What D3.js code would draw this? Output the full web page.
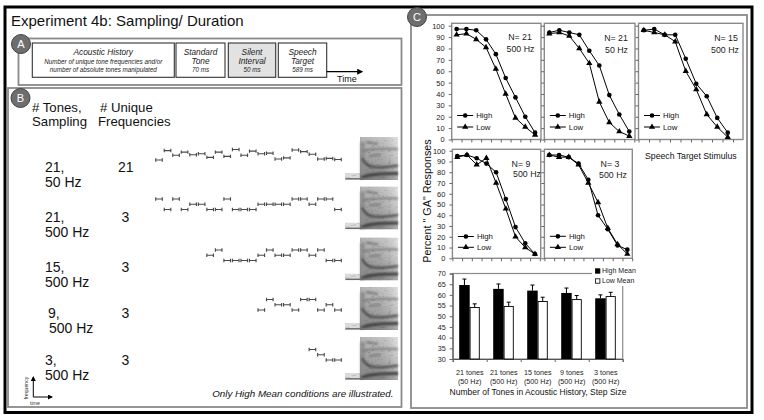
<!DOCTYPE html>
<html><head><meta charset="utf-8">
<script src="https://d3js.org/d3.v7.min.js"></script>
<style>
html,body{margin:0;padding:0;background:#fff;}
svg{display:block;}
text{font-family:"Liberation Sans",Arial,Helvetica,sans-serif;}
</style></head><body>
<svg id="fig" width="764" height="420"></svg>
<script>
// ---------------- DATA ----------------
const stimulusSteps = [1,2,3,4,5,6,7,8,9];
const percentTicks = [0,10,20,30,40,50,60,70,80,90,100];
const panelN = ["N= 21","N= 21","N= 15","N= 9","N= 3"];
const panelStep = ["500 Hz","50 Hz","500 Hz","500 Hz","500 Hz"];
const seriesNames = ["High","Low"];
const highResponses = [
  [97,97,96,88,75,54,37,20,6],
  [94,96,94,92,78,65,39,22,7],
  [96,97,92,92,71,49,38,19,6],
  [95,96,93,88,80,55,29,14,4],
  [96,96,94,88,73,40,27,12,8]
];
const lowResponses = [
  [92,93,88,81,62,40,19,11,4],
  [93,94,91,80,67,33,15,7,3],
  [96,94,92,86,60,44,22,11,2],
  [94,96,87,93,70,46,20,10,4],
  [96,94,94,87,70,52,28,13,4]
];

const barGroupTones = ["21 tones","21 tones","15 tones","9 tones","3 tones"];
const barGroupStep = ["(50 Hz)","(500 Hz)","(500 Hz)","(500 Hz)","(500 Hz)"];
const highMean = [64.6,62.8,62.0,60.9,58.4];
const highErr  = [2.8,2.3,2.6,2.3,1.6];
const lowMean  = [54.1,54.6,56.9,57.8,59.2];
const lowErr   = [1.7,2.0,2.0,1.9,2.0];
const barTicks = [30,35,40,45,50,55,60,65,70];
const barLegend = ["High Mean","Low Mean"];

const conditionTones = ["21,","21,","15,","9,","3,"];
const conditionStep = ["50 Hz","500 Hz","500 Hz","500 Hz","500 Hz"];
const conditionUnique = ["21","3","3","3","3"];
// tone frequencies (Hz) of each illustrated sequence, last tone = standard tone
const toneFreqs = [
  [1800,2700,2250,2550,2300,2400,2050,2550,2150,2800,2250,2650,2400,2450,1900,2000,2750,2600,2350,1900,1950,1850],
  [2800,1800,2800,1800,2300,2300,1800,1800,2800,1800,1800,1800,2300,2300,2300,2300,2800,2800,2300,2800,2800,1800],
  [2300,2800,1800,1800,1800,1800,2300,2800,2300,2300,2800,2800,2300,2800,1800,1800],
  [1800,2800,2300,2300,1800,2800,2800,1800,2300,1800],
  [2800,2300,1800,1800]
];
const timelineTitles = [["Acoustic History"],["Standard","Tone"],["Silent","Interval"],["Speech","Target"]];
const timelineNotes = [["Number of unique tone frequencies and/or","number of absolute tones manipulated"],["70 ms"],["50 ms"],["589 ms"]];

// ---------------- DRAWING ----------------
const FONT = '"Liberation Sans",Arial,Helvetica,sans-serif';
const GRAY = "#8a8a8a";
const svg = d3.select("#fig");
svg.append("rect").attr("width",764).attr("height",420).attr("fill","#fff");
const defs = svg.append("defs");
["arrow","arrowS"].forEach(id=>{
  defs.append("marker").attr("id",id).attr("viewBox","0 0 10 10").attr("refX",8).attr("refY",5)
    .attr("markerWidth",5).attr("markerHeight",5).attr("orient","auto")
    .append("path").attr("d","M0,0L10,5L0,10Z").attr("fill","#000");
});
const bl = defs.append("filter").attr("id","blur").attr("x","-30%").attr("y","-30%").attr("width","160%").attr("height","160%");
bl.append("feGaussianBlur").attr("stdDeviation",1.1);
const nf = defs.append("filter").attr("id","noise").attr("x",0).attr("y",0).attr("width",1).attr("height",1);
nf.append("feTurbulence").attr("type","fractalNoise").attr("baseFrequency","0.3 0.55").attr("numOctaves",2).attr("seed",9).attr("result","t");
nf.append("feColorMatrix").attr("in","t").attr("type","matrix")
  .attr("values","0.8 0.8 0 0 0.25  0.8 0.8 0 0 0.25  0.8 0.8 0 0 0.25  0 0 0 0 1").attr("result","g");
nf.append("feBlend").attr("in","SourceGraphic").attr("in2","g").attr("mode","multiply").attr("result","m");
nf.append("feGaussianBlur").attr("in","m").attr("stdDeviation",0.45).attr("result","mb");
nf.append("feComposite").attr("in","mb").attr("in2","SourceGraphic").attr("operator","in");
const sg = defs.append("linearGradient").attr("id","specGrad").attr("x1",0).attr("y1",0).attr("x2",0).attr("y2",1);
sg.append("stop").attr("offset","0%").attr("stop-color","#dcdcdc");
sg.append("stop").attr("offset","50%").attr("stop-color","#bdbdbd");
sg.append("stop").attr("offset","100%").attr("stop-color","#949494");
const sh = defs.append("linearGradient").attr("id","specShade").attr("x1",0).attr("y1",0).attr("x2",1).attr("y2",0);
sh.append("stop").attr("offset","0%").attr("stop-color","#000").attr("stop-opacity",0.18);
sh.append("stop").attr("offset","45%").attr("stop-color","#000").attr("stop-opacity",0.12);
sh.append("stop").attr("offset","100%").attr("stop-color","#fff").attr("stop-opacity",0.25);

// outer frame & panel frames
svg.append("rect").attr("x",5).attr("y",7).attr("width",747).attr("height",405.5)
  .attr("fill","none").attr("stroke","#000").attr("stroke-width",3);
svg.append("rect").attr("x",18.5).attr("y",38.5).attr("width",383).attr("height",46.5)
  .attr("fill","none").attr("stroke",GRAY).attr("stroke-width",1.8);
svg.append("rect").attr("x",8).attr("y",88).attr("width",393.5).attr("height",319)
  .attr("fill","none").attr("stroke",GRAY).attr("stroke-width",1.8);
svg.append("rect").attr("x",411).attr("y",15).attr("width",336).attr("height",393)
  .attr("fill","none").attr("stroke",GRAY).attr("stroke-width",1.8);

svg.append("text").attr("x",11).attr("y",26).attr("font-size",15).attr("fill","#111")
  .text("Experiment 4b: Sampling/ Duration");

// ----- Panel A timeline -----
const tlBoxes = [[32.3,174.3],[176,225],[228.3,275.7],[278.3,326.7]];
tlBoxes.forEach((b,i)=>{
  svg.append("rect").attr("x",b[0]).attr("y",43).attr("width",b[1]-b[0]).attr("height",34.3)
    .attr("fill", i===2 ? "#e2e2e2" : "#fff").attr("stroke","#333").attr("stroke-width",1.1);
  const cx = (b[0]+b[1])/2;
  timelineTitles[i].forEach((t,k)=>{
    svg.append("text").attr("x",cx).attr("y",54.5+k*9).attr("text-anchor","middle")
      .attr("font-size",8.3).attr("font-style","italic").attr("fill","#222").text(t);
  });
  timelineNotes[i].forEach((t,k)=>{
    const yy = i===0 ? 64.3+k*7.4 : 72.3;
    svg.append("text").attr("x",cx).attr("y",yy).attr("text-anchor","middle")
      .attr("font-size",6.3).attr("font-style","italic").attr("fill","#222").text(t);
  });
});
svg.append("line").attr("x1",326.7).attr("x2",362).attr("y1",71.7).attr("y2",71.7)
  .attr("stroke","#000").attr("stroke-width",1.2).attr("marker-end","url(#arrow)");
svg.append("text").attr("x",337).attr("y",81.7).attr("font-size",9).attr("fill","#111").text("Time");

// ----- Panel B -----
const HFS = 13.2;
svg.append("text").attr("x",32).attr("y",111.5).attr("font-size",HFS).attr("fill","#111").text("# Tones,");
svg.append("text").attr("x",32).attr("y",125.5).attr("font-size",HFS).attr("fill","#111").text("Sampling");
svg.append("text").attr("x",100).attr("y",111.5).attr("font-size",HFS).attr("fill","#111").text("# Unique");
svg.append("text").attr("x",98).attr("y",125.5).attr("font-size",HFS).attr("fill","#111").text("Frequencies");

const rowBaseY = [160, 209.5, 260.5, 310, 360];
const labelY = [172.3, 221.7, 271.7, 318.3, 365];
const labelX1 = [45,45,45,48,45];
const labelX2 = [45,45,45,49,45];
const freqScale = d3.scaleLinear().domain([1800,2800]).range([0,-10.5]);
const toneIndexScale = d3.scaleLinear().domain([-21,0]).range([159,338]);
const toneHalf = 3.3;
const RFS = 14;

conditionTones.forEach((t,i)=>{
  svg.append("text").attr("x",labelX1[i]).attr("y",labelY[i]).attr("font-size",RFS).attr("fill","#111").text(t);
  svg.append("text").attr("x",labelX2[i]).attr("y",labelY[i]+15).attr("font-size",RFS).attr("fill","#111").text(conditionStep[i]);
  svg.append("text").attr("x", i===0 ? 118 : 121.5).attr("y",labelY[i]).attr("font-size",RFS).attr("fill","#111").text(conditionUnique[i]);
  const n = toneFreqs[i].length;
  const gT = svg.append("g").attr("stroke","#4a4a4a").attr("stroke-width",1.15).attr("fill","none");
  gT.selectAll("path").data(toneFreqs[i]).join("path")
    .attr("d",(f,k)=>{
      const x = toneIndexScale(k-(n-1)), y = rowBaseY[i]+freqScale(f);
      return `M${x-toneHalf},${y-1.7}v3.4M${x-toneHalf},${y}h${2*toneHalf}M${x+toneHalf},${y-1.7}v3.4`;
    });
  // spectrogram of the speech target
  const sp = svg.append("g").attr("transform",`translate(345,${rowBaseY[i]-23})`);
  sp.append("rect").attr("x",0).attr("y",36).attr("width",16).attr("height",7).attr("fill","#dcdcdc").attr("filter","url(#noise)");
  sp.append("line").attr("x1",0.5).attr("x2",16).attr("y1",41.8).attr("y2",41.8).attr("stroke","#6a6a6a").attr("stroke-width",1.4);
  sp.append("rect").attr("x",15).attr("y",0).attr("width",38).attr("height",43).attr("fill","url(#specGrad)").attr("filter","url(#noise)");
  sp.append("rect").attr("x",15).attr("y",0).attr("width",38).attr("height",43).attr("fill","url(#specShade)");
  const fm = sp.append("g").attr("filter","url(#blur)").attr("fill","none");
  fm.append("rect").attr("x",15.5).attr("y",5).attr("width",4).attr("height",37).attr("fill","#8e8e8e").attr("stroke","none");
  fm.append("path").attr("d","M16,40.5 Q26,36.5 53,36.5").attr("stroke","#404040").attr("stroke-width",2.8);
  fm.append("path").attr("d","M17,21 Q20,29 29,30 T53,28.5").attr("stroke","#444").attr("stroke-width",2.2);
  fm.append("path").attr("d","M18,14 Q30,11 53,12").attr("stroke","#707070").attr("stroke-width",1.6);
  fm.append("path").attr("d","M21,5 L33,7").attr("stroke","#7a7a7a").attr("stroke-width",2.2);
  fm.append("path").attr("d","M24,19 L36,18").attr("stroke","#7d7d7d").attr("stroke-width",2);
});
svg.append("text").attr("x",393.5).attr("y",397).attr("text-anchor","end").attr("font-size",9.8)
  .attr("font-style","italic").attr("fill","#111").text("Only High Mean conditions are illustrated.");
// frequency/time icon
svg.append("line").attr("x1",33.3).attr("x2",33.3).attr("y1",397).attr("y2",377)
  .attr("stroke","#000").attr("stroke-width",1).attr("marker-end","url(#arrowS)");
svg.append("line").attr("x1",33.3).attr("x2",52).attr("y1",397).attr("y2",397)
  .attr("stroke","#000").attr("stroke-width",1).attr("marker-end","url(#arrowS)");
svg.append("text").attr("transform","translate(27.5,388) rotate(-90)").attr("text-anchor","middle")
  .attr("font-size",5.2).attr("fill","#333").text("frequency");
svg.append("text").attr("x",30).attr("y",404.5).attr("font-size",5.2).attr("fill","#333").text("time");

// ----- Panel C: identification functions -----
const lineLayout = [
  {left:451.7,right:541,bandR:540,top:23.3,bottom:139.5,yTop:25.7,labels:true,n:[520,40.3],s:[520.5,52],leg:[115.5,127]},
  {left:544.3,right:635,bandR:634.3,top:23.3,bottom:139.5,yTop:25.7,labels:false,n:[616,41.3],s:[616.5,53],leg:[115.5,127]},
  {left:638.5,right:743,bandR:733,top:23.3,bottom:139.5,yTop:25.7,labels:false,n:[726,41.3],s:[725,53],leg:[115.5,127]},
  {left:452.4,right:540.7,bandR:539.8,top:149.3,bottom:258.3,yTop:150.7,labels:true,n:[521,166.5],s:[527,177],leg:[236.5,247.3]},
  {left:544.4,right:632.3,bandR:632.2,top:149.3,bottom:258.3,yTop:150.7,labels:false,n:[610,167],s:[613,178.2],leg:[236.3,247.3]}
];
const symbols = [d3.symbol(d3.symbolCircle,17)(), d3.symbol(d3.symbolTriangle,17)()];
lineLayout.forEach((L,i)=>{
  const g = svg.append("g");
  const x = d3.scaleBand().domain(stimulusSteps).range([L.left,L.bandR]);
  const y = d3.scaleLinear().domain([0,100]).range([L.bottom,L.yTop]);
  g.append("rect").attr("x",L.left).attr("y",L.top).attr("width",L.right-L.left).attr("height",L.bottom-L.top)
    .attr("fill","none").attr("stroke",GRAY).attr("stroke-width",1.4);
  const yg = g.append("g").attr("transform",`translate(${L.left},0)`)
    .call(d3.axisLeft(y).tickValues(percentTicks).tickSize(3).tickPadding(4).tickFormat(L.labels ? d3.format("d") : ()=>""));
  yg.select(".domain").remove();
  yg.selectAll(".tick line").attr("stroke","#666");
  yg.selectAll(".tick text").attr("font-size",7.5).attr("font-family",FONT).attr("fill","#222");
  const xt = d3.scaleLinear().domain([0,stimulusSteps.length]).range([L.left,L.bandR]);
  const xg = g.append("g").attr("transform",`translate(0,${L.bottom})`)
    .call(d3.axisBottom(xt).tickValues(d3.range(stimulusSteps.length+1)).tickSize(3).tickFormat(()=>""));
  xg.select(".domain").remove();
  xg.selectAll(".tick line").attr("stroke","#666");
  const cx = k => x(stimulusSteps[k]) + x.bandwidth()/2;
  const line = d3.line().x((v,k)=>cx(k)).y(v=>y(v));
  [highResponses[i], lowResponses[i]].forEach((vals,s)=>{
    g.append("path").attr("d",line(vals)).attr("fill","none").attr("stroke","#000").attr("stroke-width",1);
    g.selectAll(null).data(vals).join("path")
      .attr("transform",(v,k)=>`translate(${cx(k)},${y(v)})`).attr("d",symbols[s]).attr("fill","#000");
  });
  seriesNames.forEach((nm,s)=>{
    const lx = L.left+5.5, ly = L.leg[s];
    g.append("line").attr("x1",lx).attr("x2",lx+16).attr("y1",ly).attr("y2",ly).attr("stroke","#000").attr("stroke-width",1);
    g.append("path").attr("transform",`translate(${lx+8},${ly})`).attr("d",symbols[s]).attr("fill","#000");
    g.append("text").attr("x",lx+19).attr("y",ly+2.7).attr("font-size",7.8).attr("fill","#111").text(nm);
  });
  g.append("text").attr("x",L.n[0]).attr("y",L.n[1]).attr("text-anchor","middle").attr("font-size",8.8).attr("fill","#222").text(panelN[i]);
  g.append("text").attr("x",L.s[0]).attr("y",L.s[1]).attr("text-anchor","middle").attr("font-size",8.8).attr("fill","#222").text(panelStep[i]);
});
svg.append("text").attr("transform","translate(430.5,201) rotate(-90)").attr("text-anchor","middle")
  .attr("font-size",10.8).attr("fill","#111").text('Percent " GA" Responses');
svg.append("text").attr("x",645).attr("y",158.5).attr("font-size",8.7).attr("fill","#111").text("Speech Target Stimulus");

// ----- Panel C: bar chart -----
const bx0 = 452.7, bx1 = 622.7;
const xb = d3.scaleBand().domain(d3.range(barGroupTones.length)).range([bx0,bx1]);
const yb = d3.scaleLinear().domain([30,70]).range([359,273.5]);
const bg = svg.append("g");
bg.append("rect").attr("x",bx0).attr("y",yb(70)).attr("width",bx1-bx0).attr("height",yb(30)-yb(70))
  .attr("fill","none").attr("stroke",GRAY).attr("stroke-width",1.2);
const byg = bg.append("g").attr("transform",`translate(${bx0},0)`)
  .call(d3.axisLeft(yb).tickValues(barTicks).tickSize(3).tickPadding(4).tickFormat(d3.format("d")));
byg.select(".domain").attr("stroke","#555");
byg.selectAll(".tick line").attr("stroke","#666");
byg.selectAll(".tick text").attr("font-size",7.2).attr("font-family",FONT).attr("fill","#222");
const bxt = d3.scaleLinear().domain([0,barGroupTones.length]).range([bx0,bx1]);
const bxg = bg.append("g").attr("transform",`translate(0,${yb(30)})`)
  .call(d3.axisBottom(bxt).tickValues(d3.range(barGroupTones.length+1)).tickSize(3).tickFormat(()=>""));
bxg.select(".domain").attr("stroke","#555");
bxg.selectAll(".tick line").attr("stroke","#666");
const gc = i => xb(i)+xb.bandwidth()/2;
highMean.forEach((v,i)=>{
  const c = gc(i);
  bg.append("rect").attr("x",c-10.5).attr("y",yb(v)).attr("width",10.5).attr("height",yb(30)-yb(v)).attr("fill","#000");
  bg.append("line").attr("x1",c-5.25).attr("x2",c-5.25).attr("y1",yb(v)).attr("y2",yb(v+highErr[i])).attr("stroke","#000").attr("stroke-width",1);
  bg.append("line").attr("x1",c-7.3).attr("x2",c-3.2).attr("y1",yb(v+highErr[i])).attr("y2",yb(v+highErr[i])).attr("stroke","#000").attr("stroke-width",1);
  const w = lowMean[i];
  bg.append("rect").attr("x",c+0.4).attr("y",yb(w)).attr("width",9.2).attr("height",yb(30)-yb(w)).attr("fill","#fff").attr("stroke","#000").attr("stroke-width",0.9);
  bg.append("line").attr("x1",c+5).attr("x2",c+5).attr("y1",yb(w)).attr("y2",yb(w+lowErr[i])).attr("stroke","#000").attr("stroke-width",1);
  bg.append("line").attr("x1",c+3).attr("x2",c+7).attr("y1",yb(w+lowErr[i])).attr("y2",yb(w+lowErr[i])).attr("stroke","#000").attr("stroke-width",1);
  bg.append("text").attr("x",c).attr("y",374.5).attr("text-anchor","middle").attr("font-size",7.2).attr("fill","#222").text(barGroupTones[i]);
  bg.append("text").attr("x",c).attr("y",384.2).attr("text-anchor","middle").attr("font-size",7.2).attr("fill","#222").text(barGroupStep[i]);
});
bg.append("text").attr("x",538).attr("y",394.5).attr("text-anchor","middle").attr("font-size",8.5).attr("fill","#111")
  .text("Number of Tones in Acoustic History, Step Size");
bg.append("rect").attr("x",592).attr("y",265).attr("width",44).attr("height",21).attr("fill","#fff");
barLegend.forEach((t,k)=>{
  const ly = 271 + k*10;
  bg.append("rect").attr("x",595.5).attr("y",ly-2.2).attr("width",4.4).attr("height",4.4)
    .attr("fill", k===0 ? "#000" : "#fff").attr("stroke","#000").attr("stroke-width",0.8);
  bg.append("text").attr("x",602).attr("y",ly+2.4).attr("font-size",7).attr("fill","#222").text(t);
});

// ----- panel letter badges -----
[["A",21,44],["B",20.5,98],["C",417,17]].forEach(([l,x,y])=>{
  svg.append("circle").attr("cx",x).attr("cy",y).attr("r",9.5).attr("fill","#6e6e6e").attr("stroke","#444").attr("stroke-width",1);
  svg.append("text").attr("x",x).attr("y",y+4).attr("text-anchor","middle").attr("font-size",11).attr("fill","#fff").text(l);
});
</script>
</body></html>
